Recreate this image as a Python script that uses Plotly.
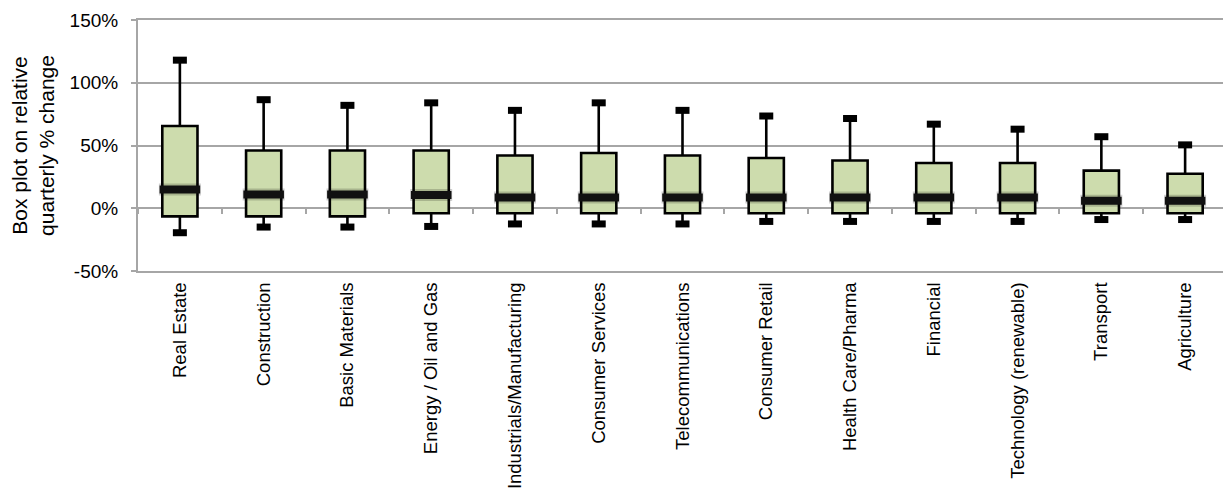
import plotly.graph_objects as go

categories = ["Real Estate", "Construction", "Basic Materials", "Energy / Oil and Gas",
              "Industrials/Manufacturing", "Consumer Services", "Telecommunications",
              "Consumer Retail", "Health Care/Pharma", "Financial", "Technology (renewable)",
              "Transport", "Agriculture"]
upper = [118, 86.5, 82, 84, 78, 84, 78, 73.5, 71.5, 67, 63, 57, 50.5]
q3 = [65.5, 46, 46, 46, 42, 44, 42, 40, 38, 36, 36, 30, 27.5]
median = [15, 11, 11, 10.5, 8.5, 8.5, 8.5, 8.5, 8.5, 8.5, 8.5, 6, 6]
q1 = [-6.5, -6.5, -6.5, -4, -4, -4, -4, -4, -4, -4, -4, -4, -4]
lower = [-19.5, -15, -15, -14.5, -12.5, -12.5, -12.5, -10.5, -10.5, -10.5, -10.5, -9, -9]
y_ticks = [-50, 0, 50, 100, 150]
y_tick_labels = ["-50%", "0%", "50%", "100%", "150%"]

FONT = "Liberation Sans, Arial, sans-serif"
GRID = "#a6a6a6"
FILL = "#cddcad"

fig = go.Figure()

fig.add_trace(go.Box(
    x=categories, q1=q1, median=median, q3=q3,
    lowerfence=lower, upperfence=upper,
    fillcolor=FILL, line=dict(color="black", width=2.6),
    whiskerwidth=0, width=0.42, boxpoints=False,
    hoverinfo="skip", showlegend=False,
))

# whisker caps
fig.add_trace(go.Scatter(
    x=categories + categories, y=upper + lower, mode="markers",
    marker=dict(symbol="line-ew", size=10, color="black",
                line=dict(color="black", width=7)),
    hoverinfo="skip", showlegend=False,
))

# median band (soft shadow + core)
fig.add_trace(go.Scatter(
    x=categories, y=median, mode="markers",
    marker=dict(symbol="line-ew", size=30, color="rgba(0,0,0,0.18)",
                line=dict(color="rgba(0,0,0,0.18)", width=12)),
    hoverinfo="skip", showlegend=False,
))
fig.add_trace(go.Scatter(
    x=categories, y=median, mode="markers",
    marker=dict(symbol="line-ew", size=29, color="#111111",
                line=dict(color="#111111", width=8)),
    hoverinfo="skip", showlegend=False,
))

# invisible trace for the category axis at 0%
fig.add_trace(go.Scatter(
    x=categories, y=median, mode="markers", xaxis="x2",
    marker=dict(opacity=0), hoverinfo="skip", showlegend=False,
))

fig.update_layout(
    width=1231, height=492,
    margin=dict(l=130, r=12, t=12, b=229),
    paper_bgcolor="white", plot_bgcolor="white",
    font=dict(family=FONT, size=18.5, color="black"),
    xaxis=dict(
        type="category", categoryorder="array", categoryarray=categories,
        range=[-0.5, 12.5], automargin=False,
        tickangle=-90, showgrid=False, ticks="",
        showline=True, mirror=True, linecolor=GRID, linewidth=2,
        tickfont=dict(family=FONT, size=18.5, color="black"),
        ticklabelstandoff=2,
    ),
    xaxis2=dict(
        type="category", categoryorder="array", categoryarray=categories,
        overlaying="x", matches="x", anchor="free", position=0.25,
        automargin=False,
        showgrid=False, showline=False, showticklabels=False,
        ticks="outside", tickson="boundaries", ticklen=5, tickwidth=2,
        tickcolor=GRID,
    ),
    yaxis=dict(
        range=[-50, 150], tickvals=y_ticks, ticktext=y_tick_labels,
        automargin=False,
        showgrid=True, gridcolor=GRID, gridwidth=2, zeroline=False,
        showline=True, mirror=True, linecolor=GRID, linewidth=2,
        ticks="outside", ticklen=5, tickwidth=2, tickcolor=GRID,
        tickfont=dict(family=FONT, size=19, color="black"),
        ticklabelstandoff=9,
        title=dict(text="Box plot on relative<br>quarterly % change",
                   font=dict(family=FONT, size=21, color="black"),
                   standoff=11),
    ),
)

fig.write_html("out.html")
